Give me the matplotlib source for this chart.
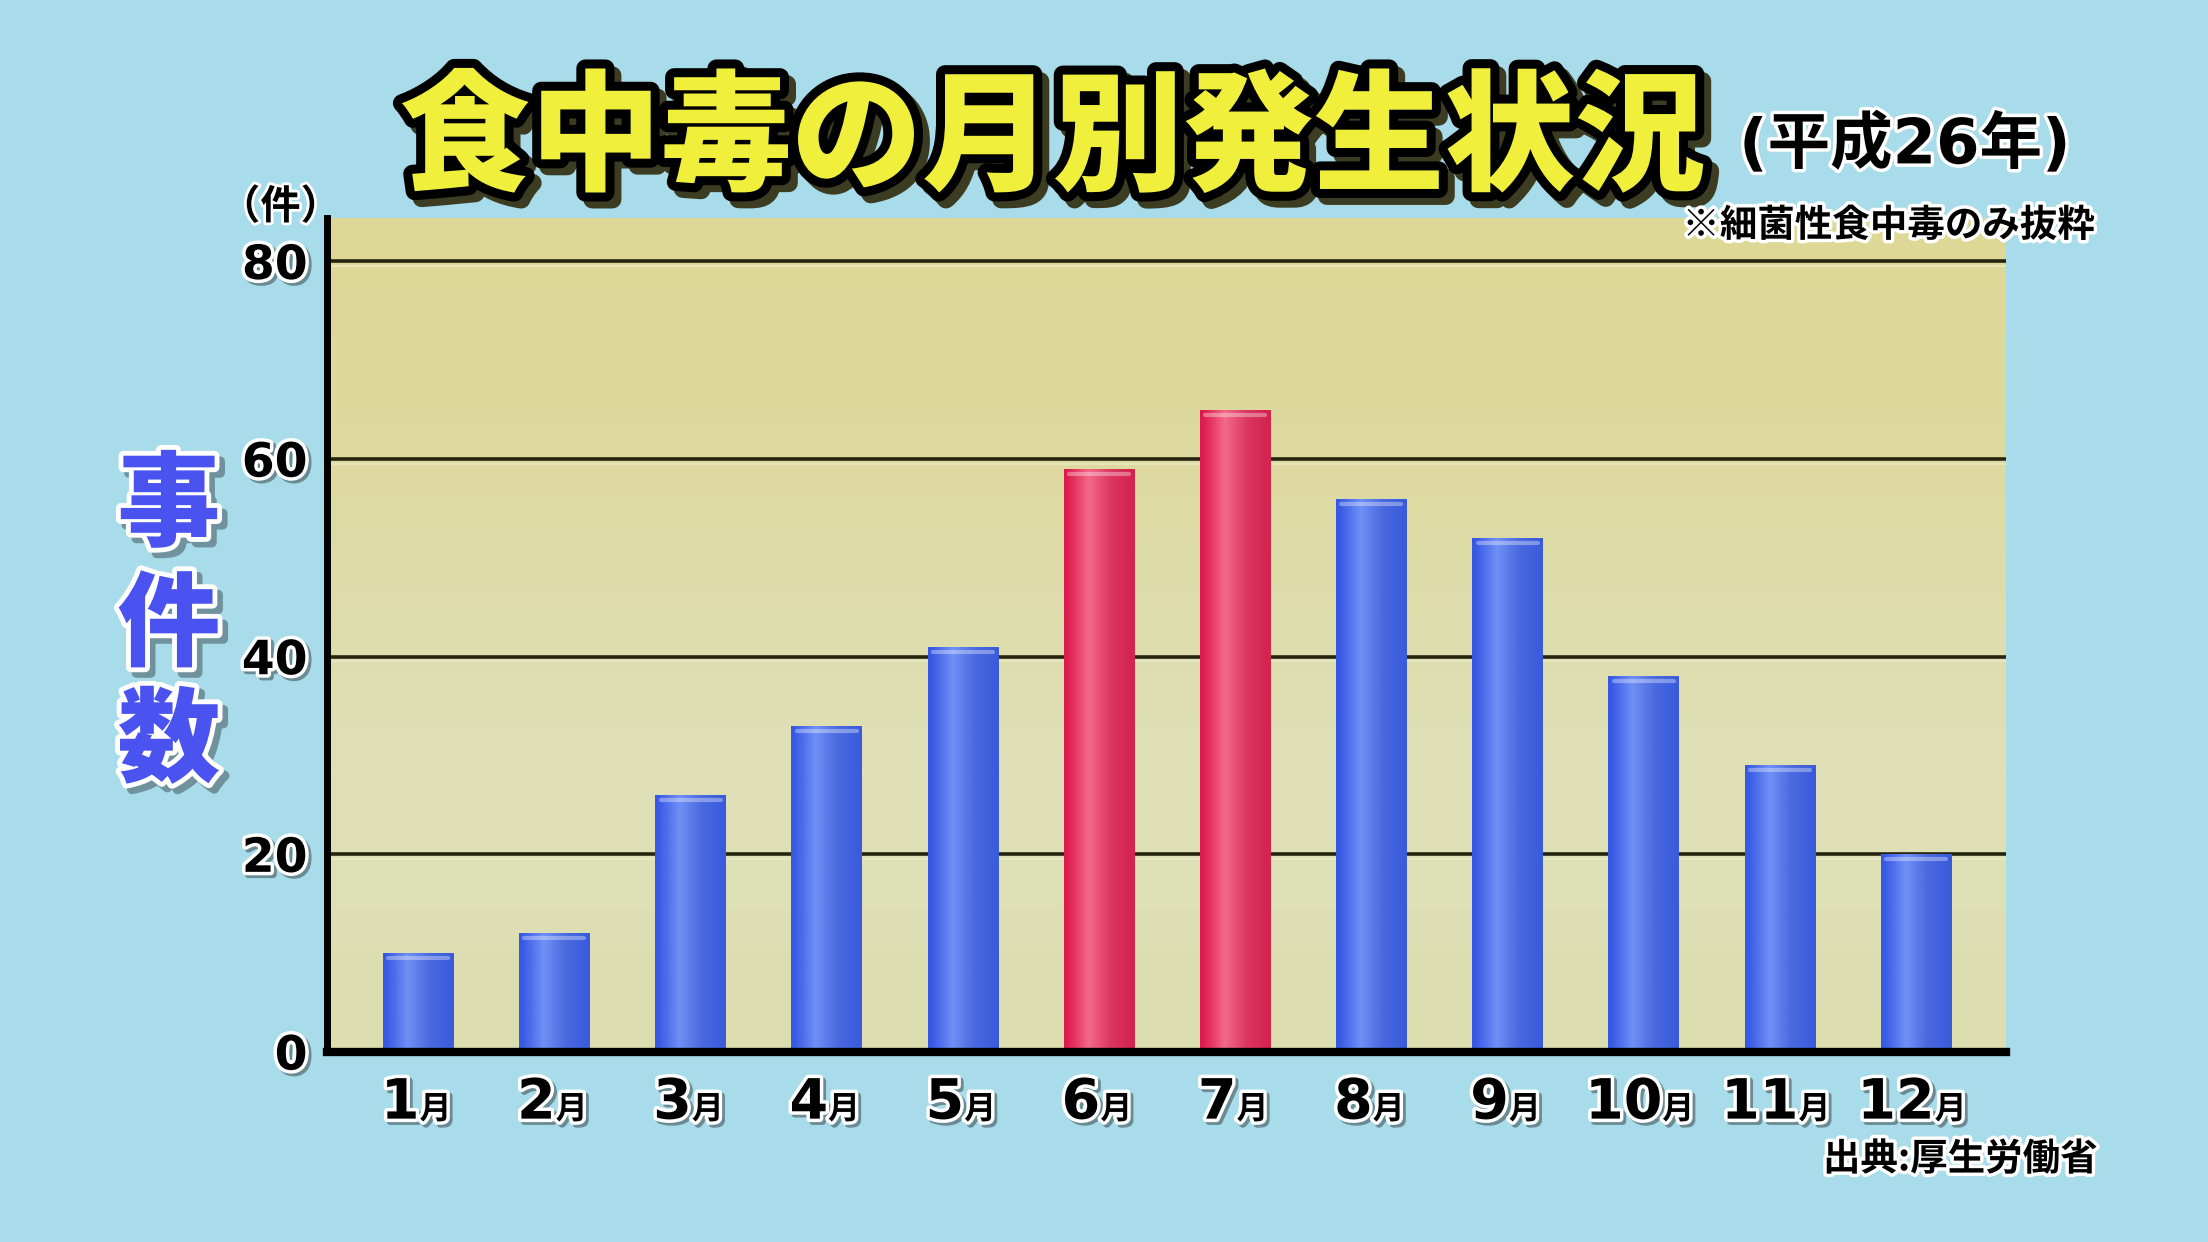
import matplotlib
matplotlib.use('Agg')
import matplotlib.pyplot as plt
import matplotlib.patheffects as pe
from matplotlib.colors import LinearSegmentedColormap
import numpy as np

plt.rcParams['font.family'] = ['DejaVu Sans', 'Noto Sans CJK JP']

# monthly bacterial food poisoning incidents, 2014 (H26)
months = ['1', '2', '3', '4', '5', '6', '7', '8', '9', '10', '11', '12']
counts = [10, 12, 26, 33, 41, 59, 65, 56, 52, 38, 29, 20]
is_peak = [False, False, False, False, False, True, True, False, False, False, False, False]
y_ticks = [0, 20, 40, 60, 80]

BG = '#a8dcea'
blue_cmap = LinearSegmentedColormap.from_list('b', ['#3658e4', '#7090f6', '#4b6ae0', '#3a5cdc'])
red_cmap = LinearSegmentedColormap.from_list('r', ['#dc1a4c', '#f36a88', '#dc3862', '#d4234f'])
yel_cmap = LinearSegmentedColormap.from_list('y', ['#dcdeb0', '#dfe0b8', '#dddaa2', '#ddd896'])


def outline(lw, fg='white', shadow=None, off=(3, -3)):
    fx = []
    if shadow is not None:
        fx.append(pe.Stroke(linewidth=lw, foreground=shadow, offset=off))
    fx += [pe.Stroke(linewidth=lw, foreground=fg), pe.Normal()]
    return fx


fig = plt.figure(figsize=(22.08, 12.42), dpi=100)
fig.patch.set_facecolor(BG)
ax = fig.add_axes([0.1481, 0.1530, 0.7604, 0.6715])

x = np.arange(len(months))
xlim = (-0.67, len(months) - 1 + 0.66)
ylim = (0, 84.4)

# plot background, yellow with a soft vertical gradient
ax.imshow(np.linspace(0, 1, 100).reshape(-1, 1), extent=(0, 1, 0, 1), transform=ax.transAxes,
          cmap=yel_cmap, aspect='auto', origin='lower', zorder=0)

for t in y_ticks[1:]:
    ax.axhline(t, color='#25250f', lw=2.6, zorder=1)
    ax.axhline(t - 0.45, color='#eeeed0', lw=1.2, alpha=0.7, zorder=1)

w = 0.52
grad = np.array([[0, 0.1, 0.2, 0.3, 0.4, 0.5, 0.6, 0.7, 0.8, 0.9, 1.0]])
for i, v in enumerate(counts):
    cmap = red_cmap if is_peak[i] else blue_cmap
    bar = ax.bar(x[i], v, width=w, color=cmap(0.5), zorder=2)[0]
    im = ax.imshow(grad, extent=(x[i] - w / 2, x[i] + w / 2, 0, v), cmap=cmap,
                   aspect='auto', interpolation='bicubic', zorder=3)
    im.set_clip_path(bar)
    # lighter rim at the top of each bar
    ax.plot([x[i] - w / 2 + 0.04, x[i] + w / 2 - 0.04], [v - 0.5, v - 0.5],
            color='white', alpha=0.35, lw=3, solid_capstyle='round', zorder=4)

ax.set_xlim(*xlim)
ax.set_ylim(*ylim)

for s in ['top', 'right']:
    ax.spines[s].set_visible(False)
ax.spines['left'].set_linewidth(5)
ax.spines['bottom'].set_linewidth(6)
ax.spines['left'].set_zorder(5)
ax.spines['bottom'].set_zorder(5)

ax.set_yticks(y_ticks)
ax.set_yticklabels([str(t) for t in y_ticks], fontsize=34, fontweight='bold')
for lbl in ax.get_yticklabels():
    lbl.set_path_effects(outline(5, shadow='#6a8a94', off=(2, -2)))
ax.set_xticks(x)
ax.set_xticklabels([])
ax.tick_params(length=0, pad=14)

# month labels: big number + small 月
dsize, msize = 40, 23
for i, m in enumerate(months):
    split = (len(m) * 0.62 * dsize - msize) / 2
    for txt, size, ha in [(m, dsize, 'right'), ('月', msize, 'left')]:
        ax.annotate(txt, xy=(x[i], 0), xycoords=('data', 'axes fraction'),
                    xytext=(split, -48), textcoords='offset points', ha=ha, va='baseline',
                    fontsize=size, fontweight='bold',
                    path_effects=outline(5, shadow='#6a8a94', off=(2, -2)))

fig.text(0.1270, 0.8330, '（件）', fontsize=29, fontweight='bold', family='Noto Sans CJK JP',
         ha='center', va='center', path_effects=outline(4))

for ch, yy in zip('事件数', [0.5918, 0.4952, 0.4018]):
    fig.text(0.0765, yy, ch, fontsize=74, fontweight='heavy', family='Noto Sans CJK JP',
             color='#4a52f0', ha='center', va='center',
             path_effects=outline(7, shadow='#6f929c', off=(4, -4)))

fig.text(0.4766, 0.8860, '食中毒の月別発生状況', fontsize=94, fontweight='heavy',
         family='Noto Sans CJK JP', color='#f0f03c', ha='center', va='center',
         path_effects=outline(13, fg='black', shadow='#3c3c22', off=(5, -5)))
fig.text(0.7876, 0.8833, '(平成26年)', fontsize=45, fontweight='bold',
         ha='left', va='center', path_effects=outline(5))
fig.text(0.9488, 0.8188, '※細菌性食中毒のみ抜粋', fontsize=27, fontweight='bold',
         family='Noto Sans CJK JP', ha='right', va='center', path_effects=outline(5))
fig.text(0.9500, 0.0670, '出典:厚生労働省', fontsize=27, fontweight='bold',
         family='Noto Sans CJK JP', ha='right', va='center', path_effects=outline(5))

fig.savefig('out.png', dpi=100, facecolor=BG)
